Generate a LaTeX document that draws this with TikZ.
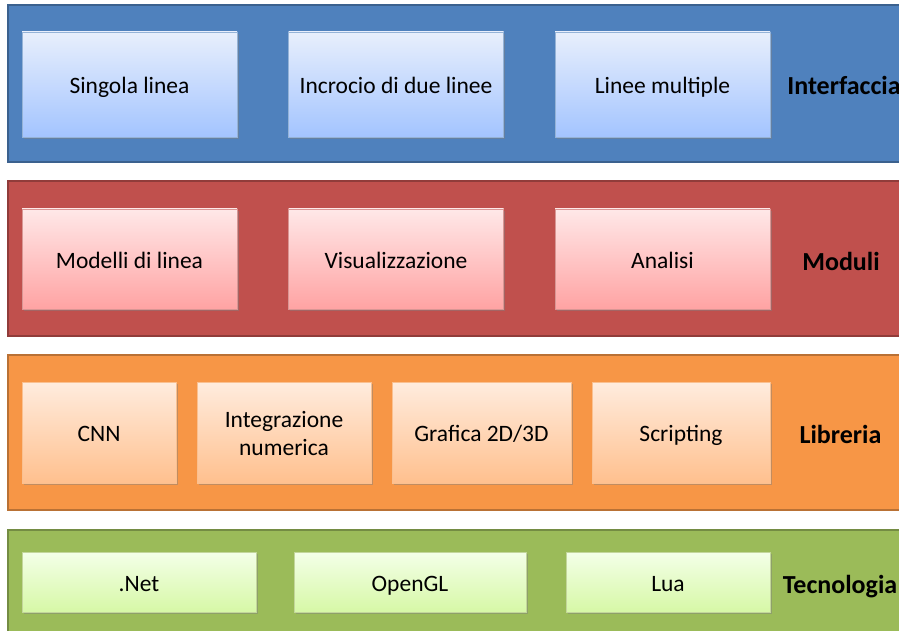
\documentclass[tikz,border=0pt]{standalone}
\usepackage{fontspec}
\setmainfont{Carlito}
\usetikzlibrary{shadows}

\definecolor{bandblue}{HTML}{4F81BD}
\definecolor{bandred}{HTML}{C0504D}
\definecolor{bandorange}{HTML}{F79646}
\definecolor{bandgreen}{HTML}{9BBB59}

\begin{document}
\begin{tikzpicture}[x=1pt,y=-1pt,
  band/.style={draw=#1!75!black, line width=1.6pt, fill=#1},
  boxtext/.style={font=\fontsize{23.5}{28}\selectfont, align=center, inner sep=0pt,
    text height=20pt, text depth=2pt},
  layerbox/.style={boxtext, draw=#1!60!white, line width=0.4pt,
    drop shadow={shadow xshift=1.5pt, shadow yshift=-2pt, opacity=0.45}},
  tag/.style={font=\fontsize{26}{30}\selectfont\bfseries, text height=22pt, text depth=2pt}]
\useasboundingbox (0,0) rectangle (899,631);
\clip (0,0) rectangle (899,631);

% Layer bands
\draw[band=bandblue] (8,5) rectangle (905,162);
\draw[band=bandred] (8,181) rectangle (905,336);
\draw[band=bandorange] (8,355) rectangle (905,510);
\draw[band=bandgreen] (8,530) rectangle (905,640);

% Interfaccia
\foreach \cx/\name/\txt in {129.5/singola/Singola linea, 396/incrocio/Incrocio di due linee, 662.5/multiple/Linee multiple} {
    \node[layerbox=bandblue, top color={rgb,255:red,232;green,239;blue,252}, bottom color={rgb,255:red,163;green,196;blue,255},
      minimum width=215pt, minimum height=105pt] (\name) at (\cx,84.5) {\txt};
}
\node[tag] (interfaccia) at (844,85) {Interfaccia};

% Moduli
\foreach \cx/\name/\txt in {129.5/modelli/Modelli di linea, 396/visual/Visualizzazione, 662.5/analisi/Analisi} {
    \node[layerbox=bandred, top color={rgb,255:red,255;green,232;blue,232}, bottom color={rgb,255:red,255;green,163;blue,163},
      minimum width=215pt, minimum height=100pt] (\name) at (\cx,259) {\txt};
}
\node[tag] (moduli) at (841,260) {Moduli};

% Libreria (two-line text is pulled down to sit centred)
\foreach \cx/\w/\dy/\name/\txt in {99/154/0/cnn/CNN, 284/174/-13.5/integr/Integrazione\\numerica, 481.5/179/0/grafica/{Grafica 2D/3D}, 681/178/0/scripting/Scripting} {
    \node[layerbox=bandorange, top color={rgb,255:red,255;green,236;blue,222}, bottom color={rgb,255:red,255;green,192;blue,142},
      minimum width=\w pt, minimum height=101pt] (\name) at (\cx,432.5) {};
    \node[boxtext, yshift=\dy pt] at (\name.center) {\txt};
}
\node[tag] (libreria) at (840.5,433) {Libreria};

% Tecnologia
\foreach \cx/\w/\name/\txt in {139/234/dotnet/.Net, 410/232/opengl/OpenGL, 668/204/lua/Lua} {
    \node[layerbox=bandgreen, top color={rgb,255:red,244;green,255;blue,232}, bottom color={rgb,255:red,214;green,248;blue,166},
      minimum width=\w pt, minimum height=60pt] (\name) at (\cx,582) {\txt};
}
\node[tag] (tecnologia) at (840,583) {Tecnologia};
\end{tikzpicture}
\end{document}
